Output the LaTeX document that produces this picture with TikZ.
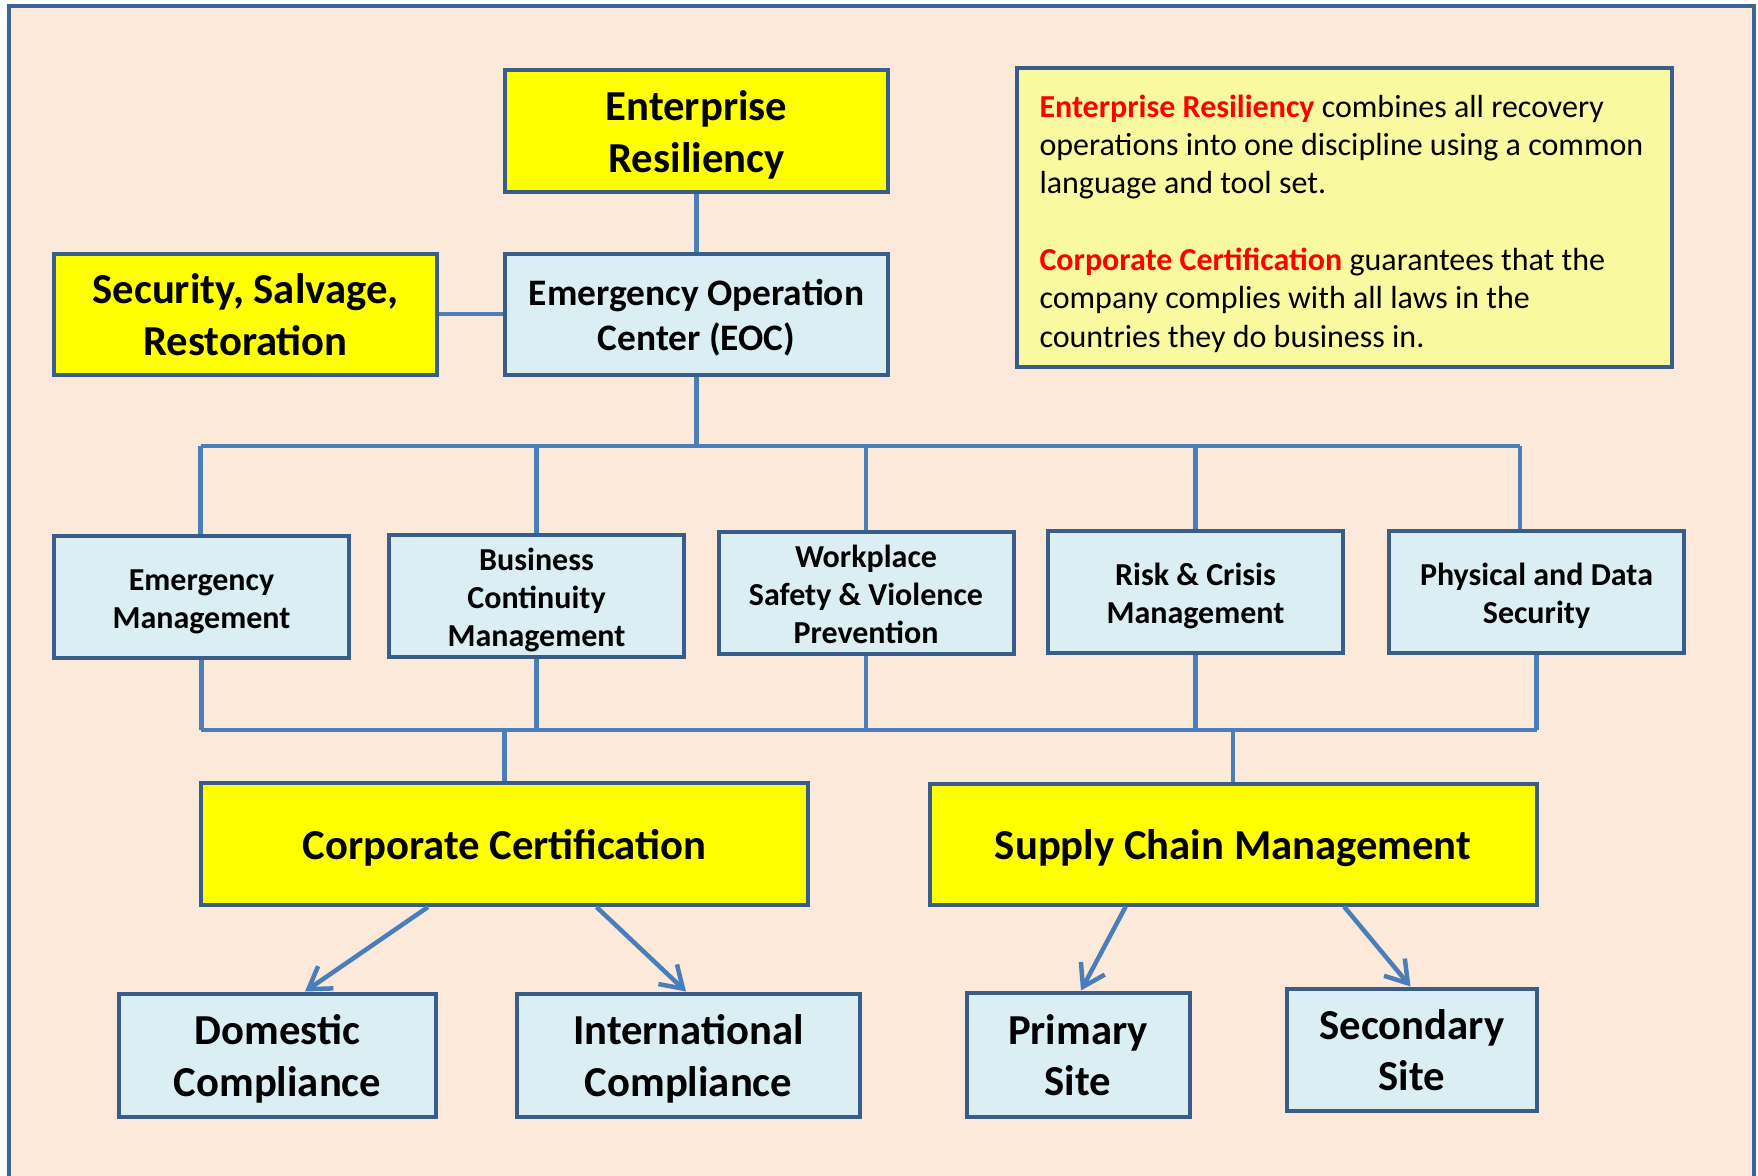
\documentclass[tikz,border=0pt]{standalone}
\usepackage{fontspec}
\setmainfont{Carlito}
\usetikzlibrary{arrows.meta}
\definecolor{bgcol}{HTML}{FDE9D9}
\definecolor{framecol}{HTML}{3C6496}
\definecolor{bordercol}{HTML}{385D8A}
\definecolor{conncol}{HTML}{4A7EBB}
\definecolor{lightblue}{HTML}{DBEEF4}
\definecolor{boxyellow}{HTML}{FFFF00}
\definecolor{noteyellow}{HTML}{F9FAA0}
\definecolor{notered}{HTML}{FF0000}
\newcommand{\bxt}[2][5pt]{\raisebox{-#1}[\height][\depth]{\begin{tabular}{@{}c@{}}#2\end{tabular}}}
\tikzset{
  basebox/.style={draw=bordercol, line width=4pt, rectangle, inner sep=2pt},
  yellowbox/.style={basebox, fill=boxyellow},
  bluebox/.style={basebox, fill=lightblue},
  bigfont/.style={font=\bfseries\fontsize{42.7}{51.5}\selectfont},
  midfont/.style={font=\bfseries\fontsize{37.4}{45}\selectfont},
  smallfont/.style={font=\bfseries\fontsize{32}{38}\selectfont},
  conn/.style={draw=conncol, line width=4.5pt},
  arr/.style={conn, -{Straight Barb[length=21pt,width=27pt]}},
}
\begin{document}
\begin{tikzpicture}[x=1pt,y=-1pt]
\useasboundingbox (0,0) rectangle (1758,1175);
\draw[draw=framecol, line width=4pt, fill=bgcol] (9,6) rectangle (1754,1195);

% top
\node[yellowbox, bigfont, minimum width=383pt, minimum height=122pt] (er) at (696.5,131) {\bxt{Enterprise\\Resiliency}};
\node[bluebox, midfont, minimum width=383pt, minimum height=121pt] (eoc) at (696.5,314) {\bxt{Emergency Operation\\Center (EOC)}};
\node[yellowbox, bigfont, minimum width=383pt, minimum height=121pt] (ssr) at (245.5,314) {\bxt{Security, Salvage,\\Restoration}};

% note
\node[basebox, fill=noteyellow, minimum width=655pt, minimum height=299pt, font=\fontsize{32}{38.3}\selectfont] (note) at (1344,217)
{\raisebox{-6.5pt}[\height][\depth]{\parbox{609pt}{\raggedright
{\bfseries\color{notered}Enterprise Resiliency} combines all recovery\\
operations into one discipline using a common\\
language and tool set.\\[38.3pt]
{\bfseries\color{notered}Corporate Certification} guarantees that the\\
company complies with all laws in the\\
countries they do business in.}}};

% second row
\node[bluebox, smallfont, minimum width=295pt, minimum height=122pt] (em) at (201.5,596.5) {\bxt{Emergency\\Management}};
\node[bluebox, smallfont, minimum width=295pt, minimum height=122pt] (bcm) at (536.5,595.5) {\bxt{Business\\Continuity\\Management}};
\node[bluebox, smallfont, minimum width=295pt, minimum height=122pt] (wsvp) at (866,593) {\bxt{Workplace\\Safety \& Violence\\Prevention}};
\node[bluebox, smallfont, minimum width=295pt, minimum height=122pt] (rcm) at (1195.5,592) {\bxt{Risk \& Crisis\\Management}};
\node[bluebox, smallfont, minimum width=295pt, minimum height=122pt] (pds) at (1536.5,592) {\bxt{Physical and Data\\Security}};

% third row
\node[yellowbox, bigfont, minimum width=607pt, minimum height=122pt] (cc) at (504.5,844) {\bxt{Corporate Certification}};
\node[yellowbox, bigfont, minimum width=607pt, minimum height=121pt] (scm) at (1233,844) {\bxt{Supply Chain Management}};

% bottom row
\node[bluebox, bigfont, minimum width=317pt, minimum height=123pt] (dc) at (277.5,1055) {\bxt{Domestic\\Compliance}};
\node[bluebox, bigfont, minimum width=343pt, minimum height=123pt] (ic) at (688.5,1055) {\bxt{International\\Compliance}};
\node[bluebox, bigfont, minimum width=223pt, minimum height=124pt] (ps) at (1078,1054.5) {\bxt{Primary\\Site}};
\node[bluebox, bigfont, minimum width=250pt, minimum height=122pt] (ss) at (1412,1049.5) {\bxt{Secondary\\Site}};

% coordinates
\coordinate (busL) at (200.7,446);
\coordinate (busR) at (1520,446);
\coordinate (lowL) at (200.7,730);
\coordinate (lowR) at (1536.5,730);

% connectors top
\draw[conn] (er.south) -- (eoc.north);
\draw[conn] (ssr.east) -- (eoc.west);
\draw[conn] (eoc.south) -- (eoc.south |- busL);
\draw[conn] (busL) -- (busR);
\draw[conn] (busL) -- (busL |- em.north);
\draw[conn] (bcm.north |- busL) -- (bcm.north);
\draw[conn] (wsvp.north |- busL) -- (wsvp.north);
\draw[conn] (rcm.north |- busL) -- (rcm.north);
\draw[conn] (busR) -- (busR |- pds.north);

% connectors lower
\draw[conn] (lowL) -- (lowR);
\draw[conn] (em.south) -- (em.south |- lowL);
\draw[conn] (bcm.south) -- (bcm.south |- lowL);
\draw[conn] (wsvp.south) -- (wsvp.south |- lowL);
\draw[conn] (rcm.south) -- (rcm.south |- lowL);
\draw[conn] (pds.south) -- (pds.south |- lowL);
\draw[conn] (cc.north |- lowL) -- (cc.north);
\draw[conn] (scm.north |- lowL) -- (scm.north);

% arrows
\draw[arr] ([xshift=-76.5pt]cc.south) -- ([xshift=27.5pt]dc.north);
\draw[arr] ([xshift=92pt]cc.south) -- ([xshift=-2.5pt]ic.north);
\draw[arr] ([xshift=-107.3pt]scm.south) -- ([xshift=3pt]ps.north);
\draw[arr] ([xshift=111pt]scm.south) -- ([xshift=-1.5pt]ss.north);
\end{tikzpicture}
\end{document}
